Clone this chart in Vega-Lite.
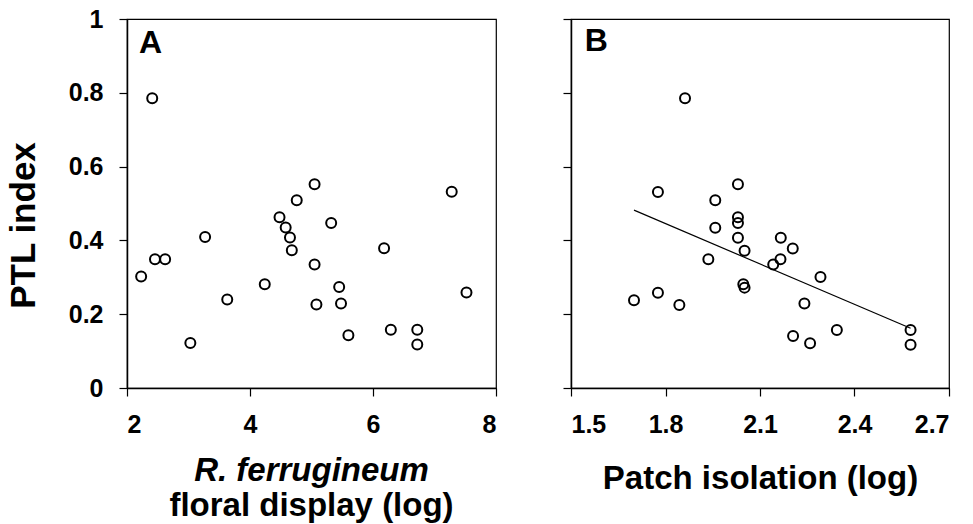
{
  "$schema": "https://vega.github.io/schema/vega-lite/v6.json",
  "background": "white",
  "padding": {"left": 5, "top": 6, "right": 5, "bottom": 5},
  "spacing": 75,
  "bounds": "flush",
  "config": {
    "font": "Liberation Sans",
    "view": {"stroke": "#000", "strokeWidth": 1.2},
    "axis": {
      "grid": false,
      "domainColor": "#000",
      "domainWidth": 1.5,
      "tickColor": "#000",
      "tickWidth": 1.2,
      "tickSize": 8,
      "labelFont": "Liberation Sans",
      "labelFontWeight": "bold",
      "labelFontSize": 25,
      "labelColor": "#000",
      "labelPadding": 16,
      "titleFont": "Liberation Sans",
      "titleFontWeight": "bold",
      "titleFontSize": 33,
      "titleColor": "#000"
    }
  },
  "datasets": {
    "a": [
      {"x": 2.41, "y": 0.785}, {"x": 2.23, "y": 0.302}, {"x": 2.455, "y": 0.349}, {"x": 2.62, "y": 0.349},
      {"x": 3.27, "y": 0.409}, {"x": 3.03, "y": 0.122}, {"x": 3.63, "y": 0.24}, {"x": 4.24, "y": 0.281},
      {"x": 4.48, "y": 0.463}, {"x": 4.58, "y": 0.435}, {"x": 4.65, "y": 0.408}, {"x": 4.68, "y": 0.373},
      {"x": 4.76, "y": 0.509}, {"x": 5.05, "y": 0.552}, {"x": 5.05, "y": 0.335}, {"x": 5.08, "y": 0.226},
      {"x": 5.32, "y": 0.447}, {"x": 5.45, "y": 0.274}, {"x": 5.48, "y": 0.229}, {"x": 5.6, "y": 0.143},
      {"x": 6.18, "y": 0.379}, {"x": 6.29, "y": 0.158}, {"x": 6.72, "y": 0.158}, {"x": 6.72, "y": 0.118},
      {"x": 7.28, "y": 0.532}, {"x": 7.52, "y": 0.259}
    ],
    "b": [
      {"x": 1.862, "y": 0.785}, {"x": 1.776, "y": 0.531}, {"x": 2.03, "y": 0.552}, {"x": 1.958, "y": 0.509},
      {"x": 2.03, "y": 0.463}, {"x": 2.03, "y": 0.447}, {"x": 1.958, "y": 0.434}, {"x": 2.03, "y": 0.407},
      {"x": 2.051, "y": 0.372}, {"x": 2.166, "y": 0.407}, {"x": 2.204, "y": 0.378}, {"x": 1.936, "y": 0.349},
      {"x": 2.165, "y": 0.349}, {"x": 2.142, "y": 0.335}, {"x": 2.292, "y": 0.301}, {"x": 2.047, "y": 0.281},
      {"x": 2.051, "y": 0.272}, {"x": 1.7, "y": 0.238}, {"x": 1.776, "y": 0.258}, {"x": 1.844, "y": 0.225},
      {"x": 2.241, "y": 0.229}, {"x": 2.344, "y": 0.157}, {"x": 2.205, "y": 0.141}, {"x": 2.259, "y": 0.121},
      {"x": 2.578, "y": 0.157}, {"x": 2.578, "y": 0.117}
    ],
    "fit": [{"x": 1.7, "y": 0.482}, {"x": 2.578, "y": 0.162}],
    "labA": [{"x": 2.195, "y": 0.908, "t": "A"}],
    "labB": [{"x": 1.544, "y": 0.913, "t": "B"}]
  },
  "hconcat": [
    {
      "width": 369,
      "height": 369,
      "title": {
        "text": "R. ferrugineum",
        "subtitle": "floral display (log)",
        "orient": "bottom",
        "anchor": "middle",
        "font": "Liberation Sans",
        "fontSize": 33,
        "fontWeight": "bold",
        "fontStyle": "italic",
        "color": "#000",
        "subtitleFont": "Liberation Sans",
        "subtitleFontSize": 33,
        "subtitleFontWeight": "bold",
        "subtitleFontStyle": "normal",
        "subtitleColor": "#000",
        "subtitlePadding": 2,
        "offset": 18
      },
      "layer": [
        {
          "data": {"name": "a"},
          "mark": {"type": "point", "shape": "circle", "filled": false, "color": "#000", "strokeWidth": 2, "size": 100, "opacity": 1},
          "encoding": {
            "x": {"field": "x", "type": "quantitative", "scale": {"domain": [2, 8], "nice": false, "zero": false},
                  "axis": {"values": [2, 4, 6, 8], "format": "~g", "title": null}},
            "y": {"field": "y", "type": "quantitative", "scale": {"domain": [0, 1], "nice": false},
                  "axis": {"values": [0, 0.2, 0.4, 0.6, 0.8, 1], "format": "~g", "title": "PTL index", "titleFontSize": 35, "titlePadding": 27, "titleY": 206}}
          }
        },
        {
          "data": {"name": "labA"},
          "mark": {"type": "text", "align": "left", "baseline": "alphabetic", "fontSize": 32, "fontWeight": "bold", "font": "Liberation Sans", "color": "#000"},
          "encoding": {
            "x": {"field": "x", "type": "quantitative"},
            "y": {"field": "y", "type": "quantitative"},
            "text": {"field": "t"}
          }
        }
      ]
    },
    {
      "width": 378,
      "height": 369,
      "layer": [
        {
          "data": {"name": "fit"},
          "mark": {"type": "line", "color": "#000", "strokeWidth": 1.2},
          "encoding": {
            "x": {"field": "x", "type": "quantitative"},
            "y": {"field": "y", "type": "quantitative"}
          }
        },
        {
          "data": {"name": "b"},
          "mark": {"type": "point", "shape": "circle", "filled": false, "color": "#000", "strokeWidth": 2, "size": 100, "opacity": 1},
          "encoding": {
            "x": {"field": "x", "type": "quantitative", "scale": {"domain": [1.5, 2.7], "nice": false, "zero": false},
                  "axis": {"values": [1.5, 1.8, 2.1, 2.4, 2.7], "format": ".1f", "title": "Patch isolation (log)", "titlePadding": 25}},
            "y": {"field": "y", "type": "quantitative", "scale": {"domain": [0, 1], "nice": false},
                  "axis": {"values": [0, 0.2, 0.4, 0.6, 0.8, 1], "labels": false, "title": null}}
          }
        },
        {
          "data": {"name": "labB"},
          "mark": {"type": "text", "align": "left", "baseline": "alphabetic", "fontSize": 32, "fontWeight": "bold", "font": "Liberation Sans", "color": "#000"},
          "encoding": {
            "x": {"field": "x", "type": "quantitative"},
            "y": {"field": "y", "type": "quantitative"},
            "text": {"field": "t"}
          }
        }
      ]
    }
  ]
}
